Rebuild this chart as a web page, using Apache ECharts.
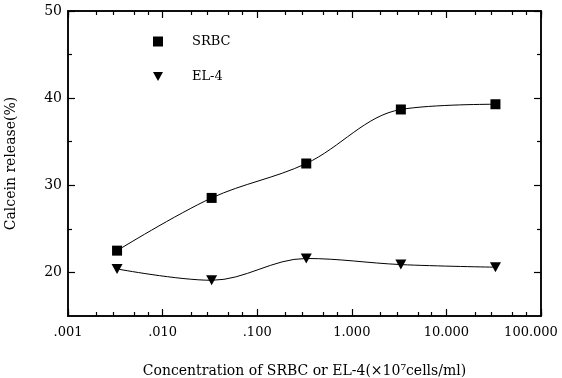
<!DOCTYPE html>
<html>
<head>
<meta charset="utf-8">
<script src="https://cdn.jsdelivr.net/npm/echarts@6/dist/echarts.min.js"></script>
<style>
    html, body { margin: 0; padding: 0; background: #fff; }
    #chart { width: 562px; height: 378px; }
</style>
</head>
<body>
<div id="chart"></div>
<script>
    // 数据
    var conc = [0.0033, 0.033, 0.33, 3.3, 33];
    var srbc = [22.5, 28.55, 32.5, 38.7, 39.3];
    var el4 = [20.4, 19.1, 21.6, 20.9, 20.6];
    var xTickValues = [0.001, 0.01, 0.1, 1, 10, 100];
    var xTickLabels = ['.001', '.010', '.100', '1.000', '10.000', '100.000'];
    var xMinorTicks = [0.002, 0.003, 0.005, 0.007, 0.02, 0.03, 0.05, 0.07,
        0.2, 0.3, 0.5, 0.7, 2, 3, 5, 7, 20, 30, 50, 70];
    var yTickValues = [20, 30, 40, 50];
    var yMinorTicks = [25, 35, 45];

    var font = 'DejaVu Serif';
    var downTri = 'path://M0,0L10,0L5,9Z';

    function pair(xs, ys) {
        var out = [];
        for (var i = 0; i < xs.length; i++) out.push([xs[i], ys[i]]);
        return out;
    }
    // 次刻度用log10坐标的value轴画（两端补上轴端点）
    var xMinorLog = [-3].concat(xMinorTicks.map(function (v) { return Math.log(v) / Math.LN10; }), [2]);
    var xMajorLog = xTickValues.map(function (v) { return Math.round(Math.log(v) / Math.LN10); });

    var lineStyle = { color: '#000', width: 1 };

    function xAx(pos, ticks, len, opts) {
        var a = {
            type: 'value', min: -3, max: 2, position: pos,
            axisLine: { show: true, onZero: false, lineStyle: { color: '#000', width: 1.5 } },
            axisTick: { show: true, inside: true, length: len, customValues: ticks, lineStyle: { color: '#000', width: 1.2 } },
            axisLabel: { show: false },
            splitLine: { show: false }
        };
        return Object.assign(a, opts || {});
    }
    function yAx(pos, ticks, len, opts) {
        var a = {
            type: 'value', min: 15, max: 50, position: pos,
            axisLine: { show: true, onZero: false, lineStyle: { color: '#000', width: 1.5 } },
            axisTick: { show: true, inside: true, length: len, customValues: ticks, lineStyle: { color: '#000', width: 1.2 } },
            axisLabel: { show: false },
            splitLine: { show: false }
        };
        return Object.assign(a, opts || {});
    }

    var myChart = echarts.init(document.getElementById('chart'));
    var option = {
        backgroundColor: '#fff',
        animation: false,
        grid: { left: 68, right: 21, top: 11, bottom: 62, outerBoundsMode: 'none' },
        legend: {
            orient: 'vertical',
            left: 148,
            top: 30,
            itemGap: 22,
            itemWidth: 10,
            itemHeight: 10,
            textStyle: { fontFamily: font, fontSize: 13, color: '#000', padding: [0, 0, 0, 24] },
            data: [
                { name: 'SRBC', icon: 'rect' },
                { name: 'EL-4', icon: downTri }
            ]
        },
        xAxis: [
            {
                type: 'log', logBase: 10, min: 0.001, max: 100, position: 'bottom',
                axisLine: { show: true, onZero: false, lineStyle: { color: '#000', width: 1.5 } },
                axisTick: { show: true, inside: true, length: 7, lineStyle: { color: '#000', width: 1.2 } },
                splitLine: { show: false },
                axisLabel: {
                    margin: 10,
                    fontFamily: font, fontSize: 13, color: '#000',
                    formatter: function (v) {
                        var i = Math.round(Math.log(v) / Math.LN10) + 3;
                        if (i === xTickLabels.length - 1) return '{last|' + xTickLabels[i] + '}';
                        return xTickLabels[i] || '';
                    },
                    rich: {
                        last: { fontFamily: font, fontSize: 13, color: '#000', padding: [0, 20, 0, 0] }
                    }
                },
                name: 'Concentration of SRBC or EL-4(×10⁷cells/ml)',
                nameLocation: 'middle',
                nameGap: 48,
                nameTextStyle: { fontFamily: font, fontSize: 14, color: '#000' }
            },
            xAx('bottom', xMinorLog, 4),
            xAx('top', xMajorLog, 7),
            xAx('top', xMinorLog, 4)
        ],
        yAxis: [
            yAx('left', yTickValues, 7, {
                axisLabel: {
                    show: true, customValues: yTickValues, margin: 6,
                    fontFamily: font, fontSize: 14, color: '#000'
                },
                name: 'Calcein release(%)',
                nameLocation: 'middle',
                nameGap: 50,
                nameTextStyle: { fontFamily: font, fontSize: 14, color: '#000' }
            }),
            yAx('left', yMinorTicks, 4),
            yAx('right', yTickValues, 7),
            yAx('right', yMinorTicks, 4)
        ],
        series: [{
            name: 'SRBC',
            type: 'line',
            smooth: 0.35,
            data: pair(conc, srbc),
            symbol: 'rect',
            symbolSize: 10,
            itemStyle: { color: '#000' },
            lineStyle: lineStyle
        }, {
            name: 'EL-4',
            type: 'line',
            smooth: 0.35,
            data: pair(conc, el4),
            symbol: downTri,
            symbolSize: [11, 10],
            itemStyle: { color: '#000' },
            lineStyle: lineStyle
        }]
    };
    myChart.setOption(option);
</script>
</body>
</html>
